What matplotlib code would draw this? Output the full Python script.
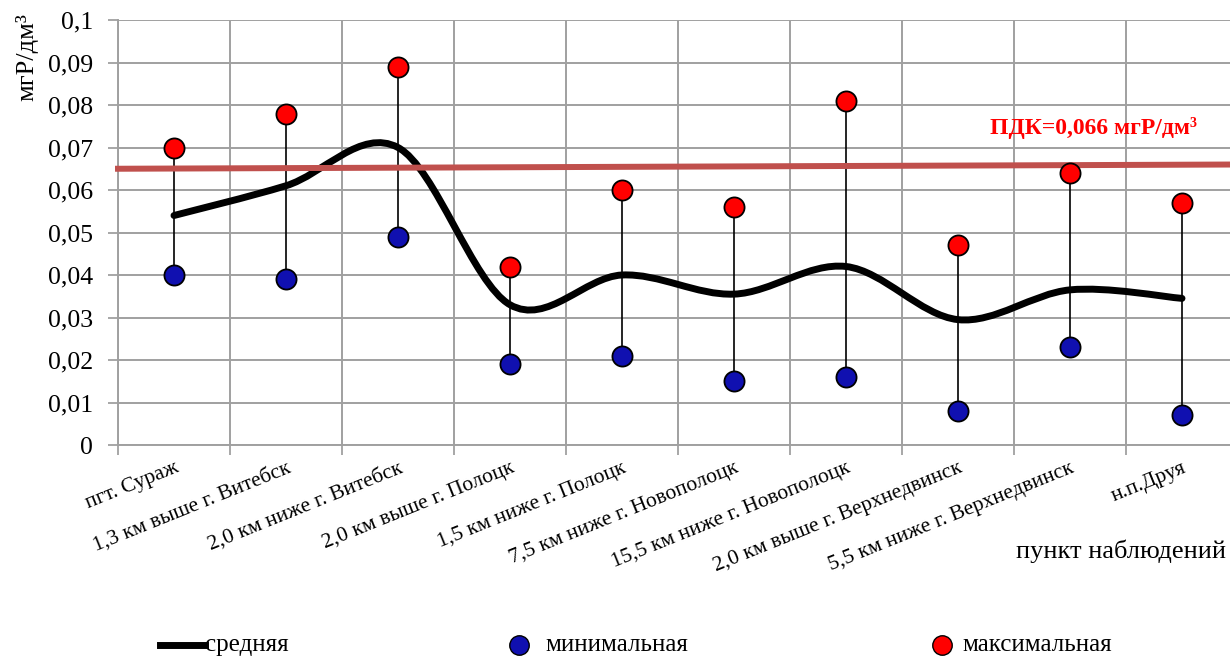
import numpy as np
import matplotlib

matplotlib.use("Agg")
import matplotlib.pyplot as plt
from matplotlib.path import Path
from matplotlib.patches import PathPatch
from matplotlib.lines import Line2D

plt.rcParams["font.family"] = ["Liberation Serif", "DejaVu Serif"]

# данные по пунктам наблюдений
stations = [
    "пгт. Сураж",
    "1,3 км выше г. Витебск",
    "2,0 км ниже г. Витебск",
    "2,0 км выше г. Полоцк",
    "1,5 км ниже г. Полоцк",
    "7,5 км ниже г. Новополоцк",
    "15,5 км ниже г. Новополоцк",
    "2,0 км выше г. Верхнедвинск",
    "5,5 км ниже г. Верхнедвинск",
    "н.п.Друя",
]
mean_vals = [0.054, 0.061, 0.070, 0.033, 0.040, 0.0355, 0.042, 0.0295, 0.0365, 0.0345]
min_vals = [0.040, 0.039, 0.049, 0.019, 0.021, 0.015, 0.016, 0.008, 0.023, 0.007]
max_vals = [0.070, 0.078, 0.089, 0.042, 0.060, 0.056, 0.081, 0.047, 0.064, 0.057]
pdk_line = [0.065, 0.066]
y_ticks = [0, 0.01, 0.02, 0.03, 0.04, 0.05, 0.06, 0.07, 0.08, 0.09, 0.1]
y_tick_labels = ["0", "0,01", "0,02", "0,03", "0,04", "0,05", "0,06", "0,07", "0,08", "0,09", "0,1"]


def smooth_path(xs, ys):
    """Кривая Безье через точки (как сглаженная линия в Excel)."""
    pts = np.column_stack([xs, ys])
    ext = np.vstack([pts[0], pts, pts[-1]])
    verts = [tuple(pts[0])]
    codes = [Path.MOVETO]
    for i in range(1, len(ext) - 2):
        p0, p1, p2, p3 = ext[i - 1], ext[i], ext[i + 1], ext[i + 2]
        c1 = p1 + (p2 - p0) / 6.0
        c2 = p2 - (p3 - p1) / 6.0
        verts += [tuple(c1), tuple(c2), tuple(p2)]
        codes += [Path.CURVE4] * 3
    return Path(verts, codes)


W, H = 1230, 657
fig = plt.figure(figsize=(W / 100, H / 100), dpi=100)
ax = fig.add_axes([118 / W, 1 - 445 / H, 1120 / W, 425 / H])

x = np.arange(1, len(stations) + 1)
grid_color = "#a0a0a0"
blue = "#1010b0"
red = "#ff0000"

ax.set_xlim(0.5, len(stations) + 0.5)
ax.set_ylim(0, 0.1)

ax.set_xticks(np.arange(0.5, len(stations) + 1, 1.0))
ax.set_xticklabels([])
ax.set_xticks(x, minor=True)
ax.set_xticklabels(stations, minor=True, rotation=22, ha="right", va="top",
                   rotation_mode="anchor", fontsize=15.5)
ax.tick_params(axis="x", which="minor", length=0, pad=10)
ax.tick_params(axis="x", which="major", length=7, color=grid_color, width=1.3)

ax.set_yticks(y_ticks)
ax.set_yticklabels(y_tick_labels, fontsize=18.5)
ax.tick_params(axis="y", length=7, color=grid_color, width=1.3, pad=11)

ax.grid(True, which="major", color=grid_color, linewidth=1.4)
ax.set_axisbelow(True)
for side in ["top", "right"]:
    ax.spines[side].set_visible(False)
for side in ["left", "bottom"]:
    ax.spines[side].set_color(grid_color)
    ax.spines[side].set_linewidth(1.4)

# разброс мин-макс
ax.vlines(x, min_vals, max_vals, color="black", linewidth=1.2, zorder=2)

# средняя
ax.add_patch(PathPatch(smooth_path(x, mean_vals), facecolor="none",
                       edgecolor="black", linewidth=5, capstyle="round", zorder=3))

# ПДК
ax.plot([0.5, len(stations) + 0.5], pdk_line, color="#c0504d", linewidth=4.3,
        zorder=4, clip_on=False)
fig.text(1197 / W, 1 - 128 / H, "ПДК=0,066 мгР/дм³", ha="right", va="center",
         color=red, fontsize=17, fontweight="bold")

ax.plot(x, min_vals, "o", color=blue, markersize=14.5, markeredgecolor="black",
        markeredgewidth=1.3, zorder=5, linestyle="none")
ax.plot(x, max_vals, "o", color=red, markersize=14.5, markeredgecolor="black",
        markeredgewidth=1.3, zorder=5, linestyle="none")

fig.text(0.022, 1 - 57 / H, "мгР/дм³", rotation=90, ha="center", va="center", fontsize=19)
fig.text(1226 / W, 1 - 551 / H, "пункт наблюдений", ha="right", va="center", fontsize=19)

# легенда вручную, в координатах рисунка
leg_y = 1 - 645 / H
fig.add_artist(Line2D([160 / W, 205 / W], [leg_y, leg_y], color="black", linewidth=5,
                      transform=fig.transFigure))
fig.text(205 / W, leg_y, "средняя", ha="left", va="center", fontsize=18)
fig.add_artist(Line2D([519 / W], [leg_y], marker="o", color=blue, markeredgecolor="black",
                      markersize=14, linestyle="none", transform=fig.transFigure))
fig.text(545 / W, leg_y, "минимальная", ha="left", va="center", fontsize=18)
fig.add_artist(Line2D([942 / W], [leg_y], marker="o", color=red, markeredgecolor="black",
                      markersize=14, linestyle="none", transform=fig.transFigure))
fig.text(962 / W, leg_y, "максимальная", ha="left", va="center", fontsize=18)

fig.savefig("out.png", dpi=100)
